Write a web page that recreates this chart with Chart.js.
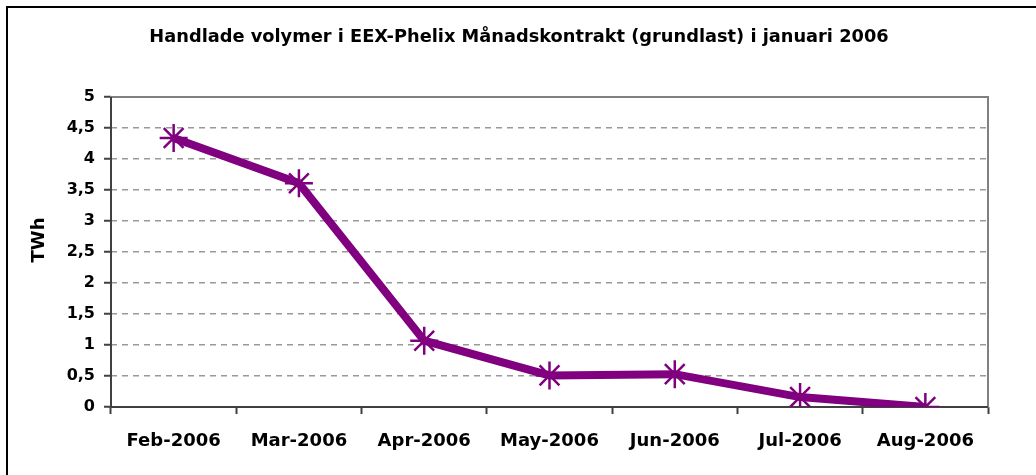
<!DOCTYPE html>
<html>
<head>
<meta charset="utf-8">
<script src="https://cdn.jsdelivr.net/npm/chart.js@4"></script>
<style>
  html, body { margin: 0; background: #fff; overflow: hidden; }
</style>
</head>
<body>
<canvas id="myChart" width="1036" height="475"></canvas>
<script>
const months = ['Feb-2006', 'Mar-2006', 'Apr-2006', 'May-2006', 'Jun-2006', 'Jul-2006', 'Aug-2006'];
const volumes = [4.34, 3.61, 1.07, 0.51, 0.53, 0.16, 0.0];
const titleText = 'Handlade volymer i EEX-Phelix Månadskontrakt (grundlast) i januari 2006';
const axisTitle = 'TWh';

const fontFam = '"DejaVu Sans", Arial, sans-serif';

// outer frame, title, axis title and plot frame
const extras = {
    id: 'extras',
    beforeDraw(chart) {
        const c = chart.ctx;
        c.save();
        c.strokeStyle = '#000';
        c.lineWidth = 2;
        c.beginPath();
        c.moveTo(7, chart.height + 5);
        c.lineTo(7, 7);
        c.lineTo(chart.width + 5, 7);
        c.stroke();
        c.restore();
    },
    beforeDatasetsDraw(chart) {
        const a = chart.chartArea;
        const c = chart.ctx;
        c.save();
        c.strokeStyle = '#808080';
        c.lineWidth = 2;
        c.strokeRect(a.left, a.top, a.right - a.left, a.bottom - a.top);
        c.strokeStyle = '#404040';
        c.beginPath();
        c.moveTo(a.left, a.top);
        c.lineTo(a.left, a.bottom);
        c.lineTo(a.right, a.bottom);
        c.stroke();
        c.restore();
    },
    afterDraw(chart) {
        const c = chart.ctx;
        c.save();
        c.font = 'bold 17.8px ' + fontFam;
        c.fillStyle = '#000';
        c.textAlign = 'center';
        c.textBaseline = 'middle';
        c.fillText(titleText, 519, 37);
        c.font = 'bold 18px ' + fontFam;
        c.translate(39, 240);
        c.rotate(-Math.PI / 2);
        c.fillText(axisTitle, 0, 0);
        c.restore();
    }
};

const ctx = document.getElementById('myChart');

new Chart(ctx, {
    type: 'line',
    data: {
        labels: months,
        datasets: [{
            data: volumes,
            borderColor: '#800080',
            borderWidth: 8,
            pointStyle: 'star',
            pointRadius: 14,
            pointHoverRadius: 14,
            pointBorderWidth: 2.5,
            pointBorderColor: '#800080',
            pointBackgroundColor: '#800080',
            tension: 0
        }]
    },
    options: {
        responsive: false,
        animation: false,
        layout: { padding: { top: 97, right: 48, left: 0, bottom: 0 } },
        plugins: {
            legend: { display: false },
            tooltip: { enabled: false }
        },
        scales: {
            x: {
                offset: true,
                grid: {
                    offset: true,
                    drawOnChartArea: false,
                    tickLength: 7,
                    tickColor: '#404040',
                    tickWidth: 2
                },
                border: { display: false },
                ticks: {
                    color: '#000',
                    padding: 17,
                    maxRotation: 0,
                    font: { family: fontFam, size: 18, weight: 'bold' }
                },
                afterFit: (s) => { s.height = 68; }
            },
            y: {
                min: 0,
                max: 5,
                ticks: {
                    stepSize: 0.5,
                    color: '#000',
                    padding: 9,
                    font: { family: fontFam, size: 16, weight: 'bold' },
                    callback: (v) => String(v).replace('.', ',')
                },
                grid: {
                    color: '#999999',
                    lineWidth: 1.5,
                    tickLength: 7,
                    tickColor: '#404040',
                    tickWidth: 2,
                    tickBorderDash: []
                },
                border: { display: false, dash: [6, 5] },
                afterFit: (s) => { s.width = 111; }
            }
        }
    },
    plugins: [extras]
});
</script>
</body>
</html>
